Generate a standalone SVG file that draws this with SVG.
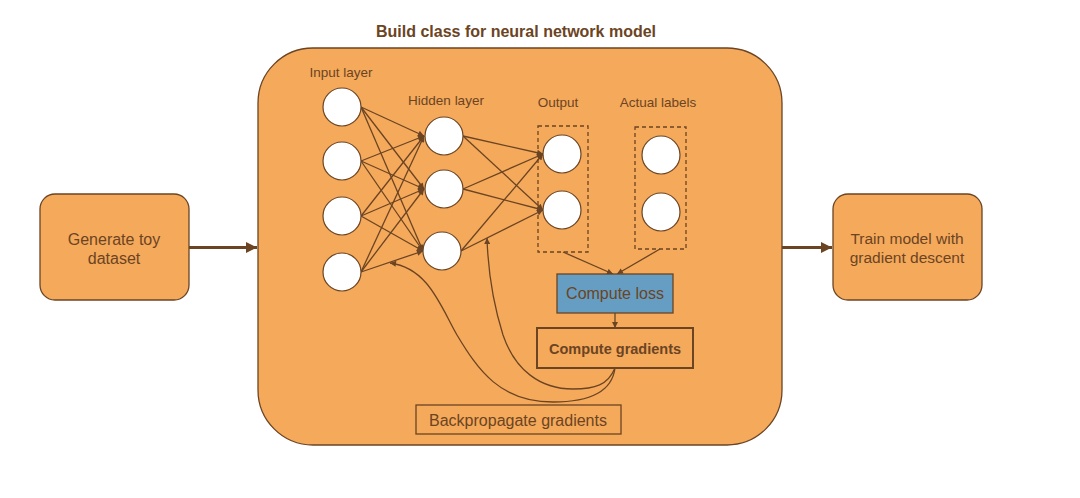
<svg xmlns="http://www.w3.org/2000/svg" width="1080" height="498" viewBox="0 0 1080 498">
<defs>
<style>
.box{fill:#f5a95b;stroke:#6b4423;stroke-width:1.3}
.neuron{fill:#ffffff;stroke:#6b4423;stroke-width:1.2}
.dash{fill:none;stroke:#6b4423;stroke-width:1.3;stroke-dasharray:4 3}
.edge{fill:none;stroke:#6b4423;stroke-width:1.3}
.thick{fill:none;stroke:#6b4423;stroke-width:3}
text{font-family:"Liberation Sans",Arial,sans-serif;fill:#6b4423;text-anchor:middle}
.lbl{font-size:13.5px}
.big{font-size:16px}
</style>
<marker id="ah" viewBox="0 0 10 10" refX="10" refY="5" markerWidth="7" markerHeight="6" markerUnits="userSpaceOnUse" orient="auto">
<path d="M0,0 L10,5 L0,10 z" fill="#6b4423"/>
</marker>
<marker id="ahb" viewBox="0 0 10 10" refX="10" refY="5" markerWidth="12" markerHeight="11" markerUnits="userSpaceOnUse" orient="auto">
<path d="M0,0 L10,5 L0,10 z" fill="#6b4423"/>
</marker>
</defs>
<rect width="1080" height="498" fill="#ffffff"/>

<g id="main">
<rect class="box" x="258" y="48" width="524" height="397" rx="55"/>
<text x="516" y="37" style="font-size:16px;font-weight:bold">Build class for neural network model</text>
</g>

<g id="generate">
<rect class="box" x="40" y="194" width="149" height="106" rx="15"/>
<text class="big" x="114" y="245">Generate toy</text>
<text class="big" x="114" y="264">dataset</text>
</g>

<g id="train">
<rect class="box" x="833" y="194" width="149" height="106" rx="15"/>
<text x="907" y="244" style="font-size:15.5px">Train model with</text>
<text x="907" y="263" style="font-size:15.5px">gradient descent</text>
</g>

<g id="labels">
<text class="lbl" x="341" y="77">Input layer</text>
<text class="lbl" x="446" y="105">Hidden layer</text>
<text class="lbl" x="558" y="107">Output</text>
<text class="lbl" x="658" y="107">Actual labels</text>
</g>

<g id="output-box"><rect class="dash" x="538" y="126" width="50" height="126"/></g>
<g id="actual-box"><rect class="dash" x="635" y="127" width="51" height="122"/></g>

<g id="connectors">
<line class="thick" x1="189" y1="247.5" x2="257" y2="247.5" marker-end="url(#ahb)"/>
<line class="thick" x1="782" y1="247.5" x2="832" y2="247.5" marker-end="url(#ahb)"/>
<!-- input to hidden -->
<line class="edge" x1="361" y1="107" x2="424" y2="136" marker-end="url(#ah)"/>
<line class="edge" x1="361" y1="107" x2="424" y2="189" marker-end="url(#ah)"/>
<line class="edge" x1="361" y1="107" x2="423" y2="251" marker-end="url(#ah)"/>
<line class="edge" x1="361" y1="161" x2="424" y2="136" marker-end="url(#ah)"/>
<line class="edge" x1="361" y1="161" x2="424" y2="189" marker-end="url(#ah)"/>
<line class="edge" x1="361" y1="161" x2="423" y2="251" marker-end="url(#ah)"/>
<line class="edge" x1="361" y1="216" x2="424" y2="136" marker-end="url(#ah)"/>
<line class="edge" x1="361" y1="216" x2="424" y2="189" marker-end="url(#ah)"/>
<line class="edge" x1="361" y1="216" x2="423" y2="251" marker-end="url(#ah)"/>
<line class="edge" x1="361" y1="272" x2="424" y2="136" marker-end="url(#ah)"/>
<line class="edge" x1="361" y1="272" x2="424" y2="189" marker-end="url(#ah)"/>
<line class="edge" x1="361" y1="272" x2="423" y2="251" marker-end="url(#ah)"/>
<!-- hidden to output -->
<line class="edge" x1="463" y1="136" x2="543" y2="154" marker-end="url(#ah)"/>
<line class="edge" x1="463" y1="136" x2="543" y2="210" marker-end="url(#ah)"/>
<line class="edge" x1="463" y1="189" x2="543" y2="154" marker-end="url(#ah)"/>
<line class="edge" x1="463" y1="189" x2="543" y2="210" marker-end="url(#ah)"/>
<line class="edge" x1="461" y1="251" x2="543" y2="154" marker-end="url(#ah)"/>
<line class="edge" x1="461" y1="251" x2="543" y2="210" marker-end="url(#ah)"/>
<!-- to loss -->
<line class="edge" x1="563" y1="252" x2="613" y2="274" marker-end="url(#ah)"/>
<line class="edge" x1="660" y1="249" x2="617" y2="274" marker-end="url(#ah)"/>
<line class="edge" x1="615" y1="313" x2="615" y2="328" marker-end="url(#ah)"/>
<!-- backprop curves -->
<path class="edge" d="M615,368 C612,392 590,402 553,402 C500,402 478,370 457,335 C440,305 428,268 390,263" marker-end="url(#ah)"/>
<path class="edge" d="M615,368 C608,385 595,389 573,389 C540,389 515,370 503,335 C492,300 488,270 487,238" marker-end="url(#ah)"/>
</g>

<g id="input-layer">
<circle class="neuron" cx="342" cy="107" r="19"/>
<circle class="neuron" cx="342" cy="161" r="19"/>
<circle class="neuron" cx="342" cy="216" r="19"/>
<circle class="neuron" cx="342" cy="272" r="19"/>
</g>
<g id="hidden-layer">
<circle class="neuron" cx="444" cy="136" r="19"/>
<circle class="neuron" cx="444" cy="189" r="19"/>
<circle class="neuron" cx="442" cy="251" r="19"/>
</g>
<g id="output-layer">
<circle class="neuron" cx="562" cy="154" r="19"/>
<circle class="neuron" cx="562" cy="210" r="19"/>
</g>
<g id="actual-labels">
<circle class="neuron" cx="661" cy="155" r="19"/>
<circle class="neuron" cx="661" cy="212" r="19"/>
</g>

<g id="compute-loss">
<rect x="557" y="274" width="116" height="39" fill="#669ec3" stroke="#6b4423" stroke-width="1.3"/>
<text class="big" x="615" y="299">Compute loss</text>
</g>
<g id="compute-gradients">
<rect x="537" y="328" width="156" height="40" fill="#f5a95b" stroke="#6b4423" stroke-width="2"/>
<text x="615" y="354" style="font-size:14.5px;font-weight:bold">Compute gradients</text>
</g>
<g id="backpropagate">
<rect x="416" y="405" width="205" height="29" fill="#f5a95b" stroke="#6b4423" stroke-width="1.3"/>
<text class="big" x="518" y="426">Backpropagate gradients</text>
</g>
</svg>
